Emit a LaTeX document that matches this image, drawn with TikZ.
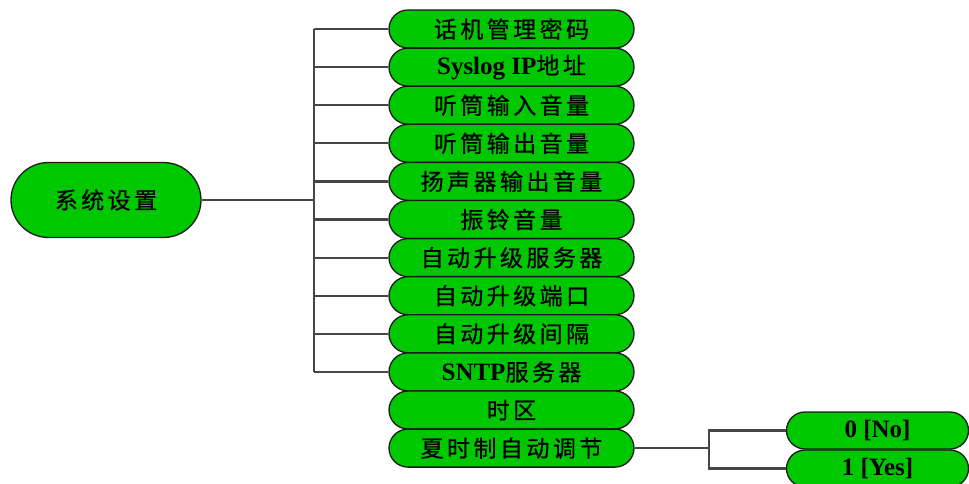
\documentclass[tikz,border=0pt]{standalone}
\usepackage{fontspec}
\setmainfont{Liberation Serif}
\newfontfamily\cjk{Noto Sans CJK SC}[LetterSpace=15,FakeBold=0.8]
\usetikzlibrary{shapes.misc}
\definecolor{nodegreen}{RGB}{0,200,0}
\definecolor{linegray}{RGB}{70,70,70}
\newcommand{\zh}[1]{{\cjk #1}}
\newcommand{\en}[1]{{\fontsize{25}{28}\selectfont\bfseries #1}}
\tikzset{
  pill/.style={rounded rectangle, draw=black!90, fill=nodegreen, line width=1.3pt,
    minimum width=245pt, minimum height=38pt, inner sep=0pt, text=black,
    font=\fontsize{23}{26}\selectfont},
  mainpill/.style={pill, minimum width=190pt, minimum height=75pt},
  subpill/.style={pill, minimum width=182pt, minimum height=37pt},
  conn/.style={draw=linegray, line width=2.2pt},
}
\begin{document}
\begin{tikzpicture}[x=1pt,y=-1pt]
\useasboundingbox (0,0) rectangle (969,483);
\clip (0,0) rectangle (969,483);
% main
\node[mainpill] (main) at (106,200) {\zh{系统设置}};
% children
\node[pill] (c1)  at (511.5,29.0)  {\zh{话机管理密码}};
\node[pill] (c2)  at (511.5,67.1)  {\en{Syslog IP}\zh{地址}};
\node[pill] (c3)  at (511.5,105.2) {\zh{听筒输入音量}};
\node[pill] (c4)  at (511.5,143.3) {\zh{听筒输出音量}};
\node[pill] (c5)  at (511.5,181.4) {\zh{扬声器输出音量}};
\node[pill] (c6)  at (511.5,219.5) {\zh{振铃音量}};
\node[pill] (c7)  at (511.5,257.6) {\zh{自动升级服务器}};
\node[pill] (c8)  at (511.5,295.7) {\zh{自动升级端口}};
\node[pill] (c9)  at (511.5,333.8) {\zh{自动升级间隔}};
\node[pill] (c10) at (511.5,371.9) {\en{SNTP}\zh{服务器}};
\node[pill] (c11) at (511.5,410.0) {\zh{时区}};
\node[pill] (c12) at (511.5,448.1) {\zh{夏时制自动调节}};
% sub options
\node[subpill] (no)  at (877.5,430.5) {\en{0 [No]}};
\node[subpill] (yes) at (877.5,468.5) {\en{1 [Yes]}};
% trunk
\coordinate (t) at (314,200);
\draw[conn] (main.east) -- (t);
\draw[conn] (c1.west -| t) -- (c10.west -| t);
\foreach \i in {1,...,10} {
  \draw[conn] (c\i.west -| t) -- (c\i.west);
}
% right branch
\coordinate (b) at (709,448.1);
\draw[conn] (c12.east) -- (b);
\draw[conn] (no.west) -- (no.west -| b) -- (yes.west -| b) -- (yes.west);
\end{tikzpicture}
\end{document}
